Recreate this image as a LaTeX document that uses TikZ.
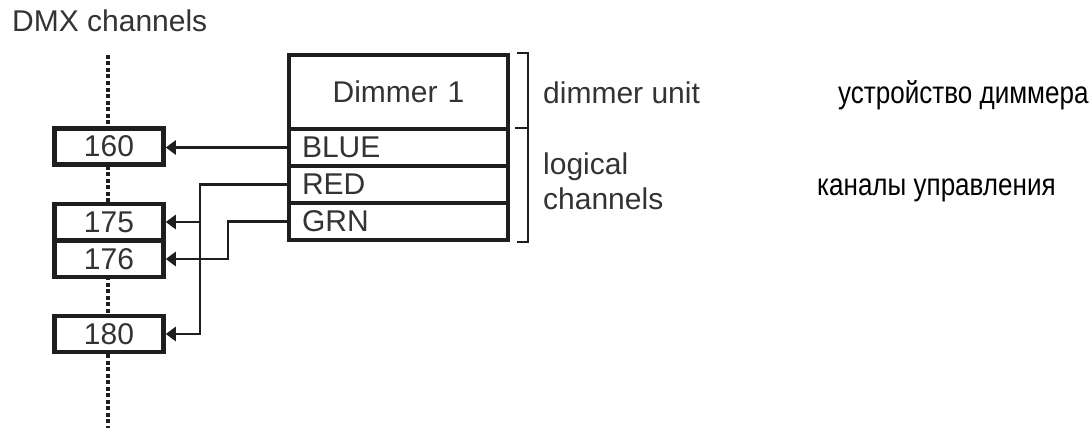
\documentclass[tikz,border=0pt]{standalone}
\usepackage{fontspec}
\setmainfont{Liberation Sans}
\newfontfamily\rufont[FakeStretch=0.84]{Liberation Sans}
\usetikzlibrary{arrows.meta,positioning}
\definecolor{ink}{HTML}{1E1E1E}
\definecolor{txt}{HTML}{333333}
\tikzstyle{chan}=[draw=ink,line width=4.5pt,fill=white,minimum width=109pt,minimum height=36pt,inner sep=0pt,text=txt,font=\fontsize{30}{30}\selectfont]
\tikzstyle{row}=[draw=ink,line width=4.5pt,fill=white,minimum width=219pt,text width=193pt,inner xsep=13pt,inner ysep=0pt,outer sep=0pt,align=left,text=txt,font=\fontsize{30}{30}\selectfont]
\tikzstyle{link}=[draw=ink,line width=2.6pt,-{Triangle[length=10pt,width=14pt]}]
\tikzstyle{spine}=[draw=ink,line width=4.5pt,dash pattern=on 4pt off 2.5pt]
\tikzstyle{brace}=[draw=ink,line width=2.3pt]
\tikzstyle{notes}=[inner sep=0pt,text=txt,font=\fontsize{30}{35}\selectfont,align=left]
\tikzstyle{rutext}=[inner sep=0pt,text=black,font=\rufont\fontsize{31}{35}\selectfont]

\begin{document}
\begin{tikzpicture}[x=1pt,y=-1pt]
    \useasboundingbox (0,0) rectangle (1092,428);
    % DMX channel column
    \node[notes,anchor=base west] (dmx) at (12,32) {DMX channels};
    \coordinate (spinetop) at (108,55);
    \coordinate (spinebot) at (108,428);
    \path[spine] (spinetop) -- (spinebot);
    \foreach \pos/\name/\num in {{(109,146.5)/c160/160}, {(109,222)/c175/175}, {(109,259)/c176/176}, {(109,334)/c180/180}}
        \node[chan] (\name) at \pos {\num};
    % The dimmer with its logical channels
    \node[row,minimum height=74pt,align=center] (dim) at (398.5,92) {Dimmer 1};
    \node[row,minimum height=37pt,below=0pt of dim] (blue) {BLUE};
    \node[row,minimum height=37pt,below=0pt of blue] (red) {RED};
    \node[row,minimum height=37pt,below=0pt of red] (grn) {GRN};
    % Patch lines
    \coordinate (redx) at (200,0);
    \coordinate (grnx) at (228,0);
    \path[link] (blue.west) -- (c160.east |- blue.west);
    \path[link] (red.west) -| (redx |- c180.east) -- (c180.east);
    \path[link] (redx |- c175.east) -- (c175.east);
    \path[link] (grn.west) -- (grnx |- grn.west) |- (c176.east);
    % Bracket and captions
    \path[brace] (517,53) -- (528,53) -- (528,242) -- (517,242);
    \path[brace] (515,128) -- (528,128);
    \node[notes,anchor=base west] (unit) at (543,103) {dimmer unit};
    \node[notes,anchor=west] (logic) at (543,181) {logical\\channels};
    \node[rutext,anchor=base west] (unitru) at (838,103) {устройство диммера};
    \node[rutext,anchor=base west] (logicru) at (817,195) {каналы управления};
\end{tikzpicture}
\end{document}
